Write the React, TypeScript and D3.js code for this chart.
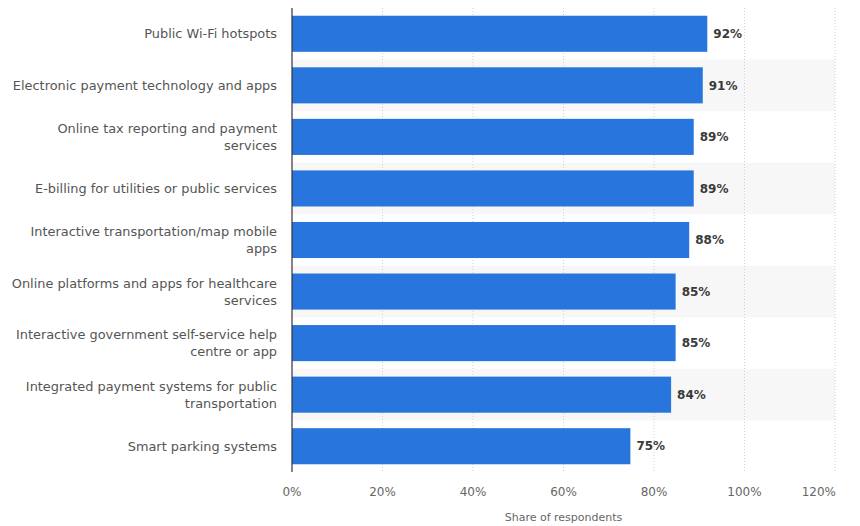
import React from "react";
import * as d3 from "d3";

const categories: string[][] = [
  ["Public Wi-Fi hotspots"],
  ["Electronic payment technology and apps"],
  ["Online tax reporting and payment", "services"],
  ["E-billing for utilities or public services"],
  ["Interactive transportation/map mobile", "apps"],
  ["Online platforms and apps for healthcare", "services"],
  ["Interactive government self-service help", "centre or app"],
  ["Integrated payment systems for public", "transportation"],
  ["Smart parking systems"],
];
const values: number[] = [92, 91, 89, 89, 88, 85, 85, 84, 75];
const ticks: number[] = [0, 20, 40, 60, 80, 100, 120];
const axisTitle = "Share of respondents";

const W = 860;
const H = 526;
const left = 292;
const right = 835;
const top = 8;
const bottom = 472;
const font = "'DejaVu Sans', sans-serif";

export default function App() {
  const x = d3.scaleLinear().domain([0, 120]).range([left, right]);
  const idx = categories.map((_, i) => String(i));
  const y = d3.scaleBand().domain(idx).range([top, bottom]).paddingInner(0.3).paddingOuter(0.15);
  const step = y.step();
  return (
    <svg width={W} height={H} style={{ position: "absolute", left: 0, top: 0, background: "#fff" }}>
      {idx.map((k, i) =>
        i % 2 === 1 ? (
          <rect key={"b" + k} x={left} y={top + i * step} width={right - left} height={step} fill="#f7f7f7" />
        ) : null
      )}
      {ticks.slice(1).map((t) => (
        <line key={"g" + t} x1={x(t)} x2={x(t)} y1={top} y2={bottom} stroke="#cfcfcf" strokeWidth={1} strokeDasharray="1,2" />
      ))}
      {values.map((v, i) => (
        <rect key={"r" + i} x={x(0)} y={y(String(i))!} width={x(v) - x(0) - 1} height={y.bandwidth()} fill="#2876dd" />
      ))}
      {values.map((v, i) => (
        <text key={"v" + i} x={x(v) + 5} y={y(String(i))! + y.bandwidth() / 2} dy="0.35em" fontFamily={font} fontSize={12} fontWeight={700} fill="#3a3a3a">
          {v}%
        </text>
      ))}
      {categories.map((lines, i) => {
        const cy = y(String(i))! + y.bandwidth() / 2;
        const lh = 17;
        const y0 = cy - ((lines.length - 1) * lh) / 2;
        return (
          <text key={"c" + i} x={277} textAnchor="end" fontFamily={font} fontSize={12.9} fill="#555">
            {lines.map((l, j) => (
              <tspan key={j} x={277} y={y0 + j * lh} dy="0.35em">
                {l}
              </tspan>
            ))}
          </text>
        );
      })}
      <line x1={left} x2={left} y1={top} y2={bottom} stroke="#333" strokeWidth={1.2} />
      {ticks.map((t, i) => (
        <text key={"t" + t} x={i === ticks.length - 1 ? x(t) + 1 : x(t)} y={496} textAnchor={i === ticks.length - 1 ? "end" : "middle"} fontFamily={font} fontSize={12} fill="#666">
          {t}%
        </text>
      ))}
      <text x={(left + right) / 2} y={521} textAnchor="middle" fontFamily={font} fontSize={11} fill="#666">
        {axisTitle}
      </text>
    </svg>
  );
}
